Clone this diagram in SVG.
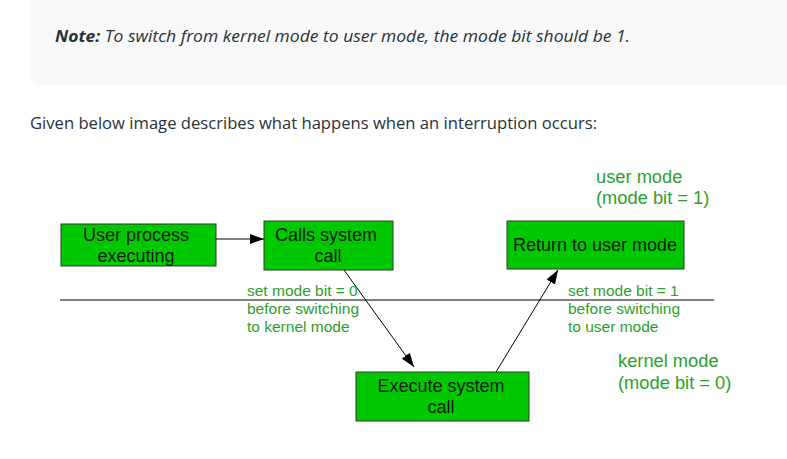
<svg xmlns="http://www.w3.org/2000/svg" width="787" height="459" viewBox="0 0 787 459">
<defs>
<style>
.node rect{fill:#00c800;stroke:#2b3a2b;stroke-width:1}
.node text{font-family:"Liberation Sans",Arial,sans-serif;font-size:18px;fill:#0d1a0d;text-anchor:middle}
.lbl{font-family:"Liberation Sans",Arial,sans-serif;font-size:15.5px;fill:#2ca02c}
.big{font-family:"Liberation Sans",Arial,sans-serif;font-size:18.3px;fill:#2ca02c}
.conn line{stroke:#000;stroke-width:1}
.page{font-family:"Open Sans",Lato,sans-serif;fill:#273239}
</style>
<marker id="ah2" viewBox="0 0 14 10" refX="14" refY="5" markerWidth="14" markerHeight="10" markerUnits="userSpaceOnUse" orient="auto">
<path d="M0,0 L14,5 L0,10 z" fill="#000"/>
</marker>
</defs>
<rect width="787" height="459" fill="#fff"/>
<rect x="30" y="-20" width="780" height="105" rx="12" fill="#f8f8f8"/>
<text class="page" x="55" y="42" font-size="16" font-style="italic" textLength="575" lengthAdjust="spacingAndGlyphs"><tspan font-weight="bold">Note:</tspan> To switch from kernel mode to user mode, the mode bit should be 1.</text>
<text class="page" x="30" y="129" font-size="16" textLength="567" lengthAdjust="spacingAndGlyphs">Given below image describes what happens when an interruption occurs:</text>

<g id="divider"><line x1="60" y1="300" x2="714" y2="300" stroke="#000" stroke-width="1"/></g>

<g id="user-process" class="node">
<rect x="61" y="224" width="155" height="42"/>
<text x="136" y="241">User process</text>
<text x="136" y="262">executing</text>
</g>
<g id="calls-system-call" class="node">
<rect x="264" y="221" width="129" height="49"/>
<text x="326" y="241">Calls system</text>
<text x="328" y="262">call</text>
</g>
<g id="return-user-mode" class="node">
<rect x="507" y="221" width="177" height="48"/>
<text x="595" y="251">Return to user mode</text>
</g>
<g id="execute-system-call" class="node">
<rect x="356" y="372" width="173" height="49"/>
<text x="441" y="392">Execute system</text>
<text x="441" y="413">call</text>
</g>

<g id="connectors" class="conn">
<line x1="216" y1="239" x2="264" y2="239" marker-end="url(#ah2)"/>
<line x1="344" y1="270" x2="414" y2="367" marker-end="url(#ah2)"/>
<line x1="496" y1="372" x2="558" y2="270" marker-end="url(#ah2)"/>
</g>

<g id="labels">
<text class="lbl" x="247" y="296">set mode bit = 0</text>
<text class="lbl" x="247" y="314">before switching</text>
<text class="lbl" x="247" y="332">to kernel mode</text>
<text class="lbl" x="568" y="296">set mode bit = 1</text>
<text class="lbl" x="568" y="314">before switching</text>
<text class="lbl" x="568" y="332">to user mode</text>
<text class="big" x="596" y="183">user mode</text>
<text class="big" x="596" y="204">(mode bit = 1)</text>
<text class="big" x="618" y="367">kernel mode</text>
<text class="big" x="618" y="389">(mode bit = 0)</text>
</g>
</svg>
